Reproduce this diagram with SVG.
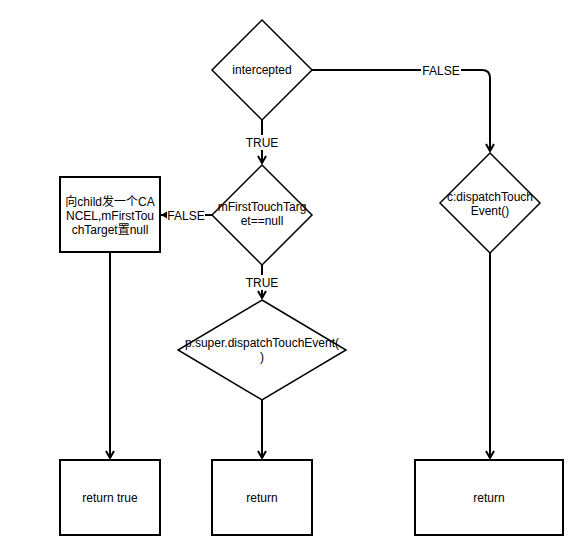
<svg xmlns="http://www.w3.org/2000/svg" width="585" height="555" viewBox="0 0 585 555">
<defs>
<marker id="arr" markerWidth="10" markerHeight="10" refX="8" refY="5" orient="auto" markerUnits="userSpaceOnUse">
<path d="M1,1 L8,5 L1,9" fill="none" stroke="#000" stroke-width="2"/>
</marker>
<marker id="tri" markerWidth="8" markerHeight="8" refX="6" refY="4" orient="auto" markerUnits="userSpaceOnUse">
<path d="M0,0.5 L6,4 L0,7.5 z" fill="#000"/>
</marker>
</defs>
<style>
text{font-family:"Liberation Sans",Arial,"Noto Sans CJK SC",sans-serif;font-size:12px;fill:#000;text-anchor:middle}
.d{fill:#fff;stroke:#000;stroke-width:1.5}
.b{fill:#fff;stroke:#000;stroke-width:2}
.e{fill:none;stroke:#000;stroke-width:2}
.lb{fill:#fff;stroke:none}
</style>
<rect width="585" height="555" fill="#fff"/>
<g id="connectors">
<path class="e" d="M262,120 V163" marker-end="url(#arr)"/>
<path class="e" d="M312,70 H482 Q490,70 490,78 V151" marker-end="url(#arr)"/>
<path class="e" d="M212,215 H161" marker-end="url(#tri)"/>
<path class="e" d="M262,265 V298" marker-end="url(#arr)"/>
<path class="e" d="M262,400 V458" marker-end="url(#arr)"/>
<path class="e" d="M110,253 V458" marker-end="url(#arr)"/>
<path class="e" d="M490,253 V458" marker-end="url(#arr)"/>
<rect class="lb" x="246" y="135" width="32" height="15"/>
<text x="262" y="147">TRUE</text>
<rect class="lb" x="421" y="63" width="40" height="15"/>
<text x="441" y="75">FALSE</text>
<rect class="lb" x="167" y="208" width="38" height="15"/>
<text x="186" y="220">FALSE</text>
<rect class="lb" x="246" y="275" width="32" height="15"/>
<text x="262" y="287">TRUE</text>
</g>
<g id="intercepted">
<path class="d" d="M262,20 L312,70 L262,120 L212,70 z"/>
<text x="262" y="74">intercepted</text>
</g>
<g id="mFirstTouchTarget">
<path class="d" d="M262,165 L312,215 L262,265 L212,215 z"/>
<text x="262" y="211">mFirstTouchTarg</text>
<text x="262" y="225">et==null</text>
</g>
<g id="cancel">
<rect class="b" x="60" y="177" width="100" height="75"/>
<text x="110" y="206">向child发一个CA</text>
<text x="110" y="220">NCEL,mFirstTou</text>
<text x="110" y="234">chTarget置null</text>
</g>
<g id="superDispatch">
<path class="d" d="M262,300 L346,350 L262,400 L178,350 z"/>
<text x="262" y="347">p:super.dispatchTouchEvent(</text>
<text x="262" y="361">)</text>
</g>
<g id="childDispatch">
<path class="d" d="M490,153 L540,203 L490,253 L440,203 z"/>
<text x="490" y="201">c:dispatchTouch</text>
<text x="490" y="215">Event()</text>
</g>
<g id="returnTrue">
<rect class="b" x="60" y="460" width="100" height="75"/>
<text x="110" y="502">return true</text>
</g>
<g id="return1">
<rect class="b" x="212" y="460" width="100" height="75"/>
<text x="262" y="502">return</text>
</g>
<g id="return2">
<rect class="b" x="415" y="460" width="148" height="75"/>
<text x="489" y="502">return</text>
</g>
</svg>
